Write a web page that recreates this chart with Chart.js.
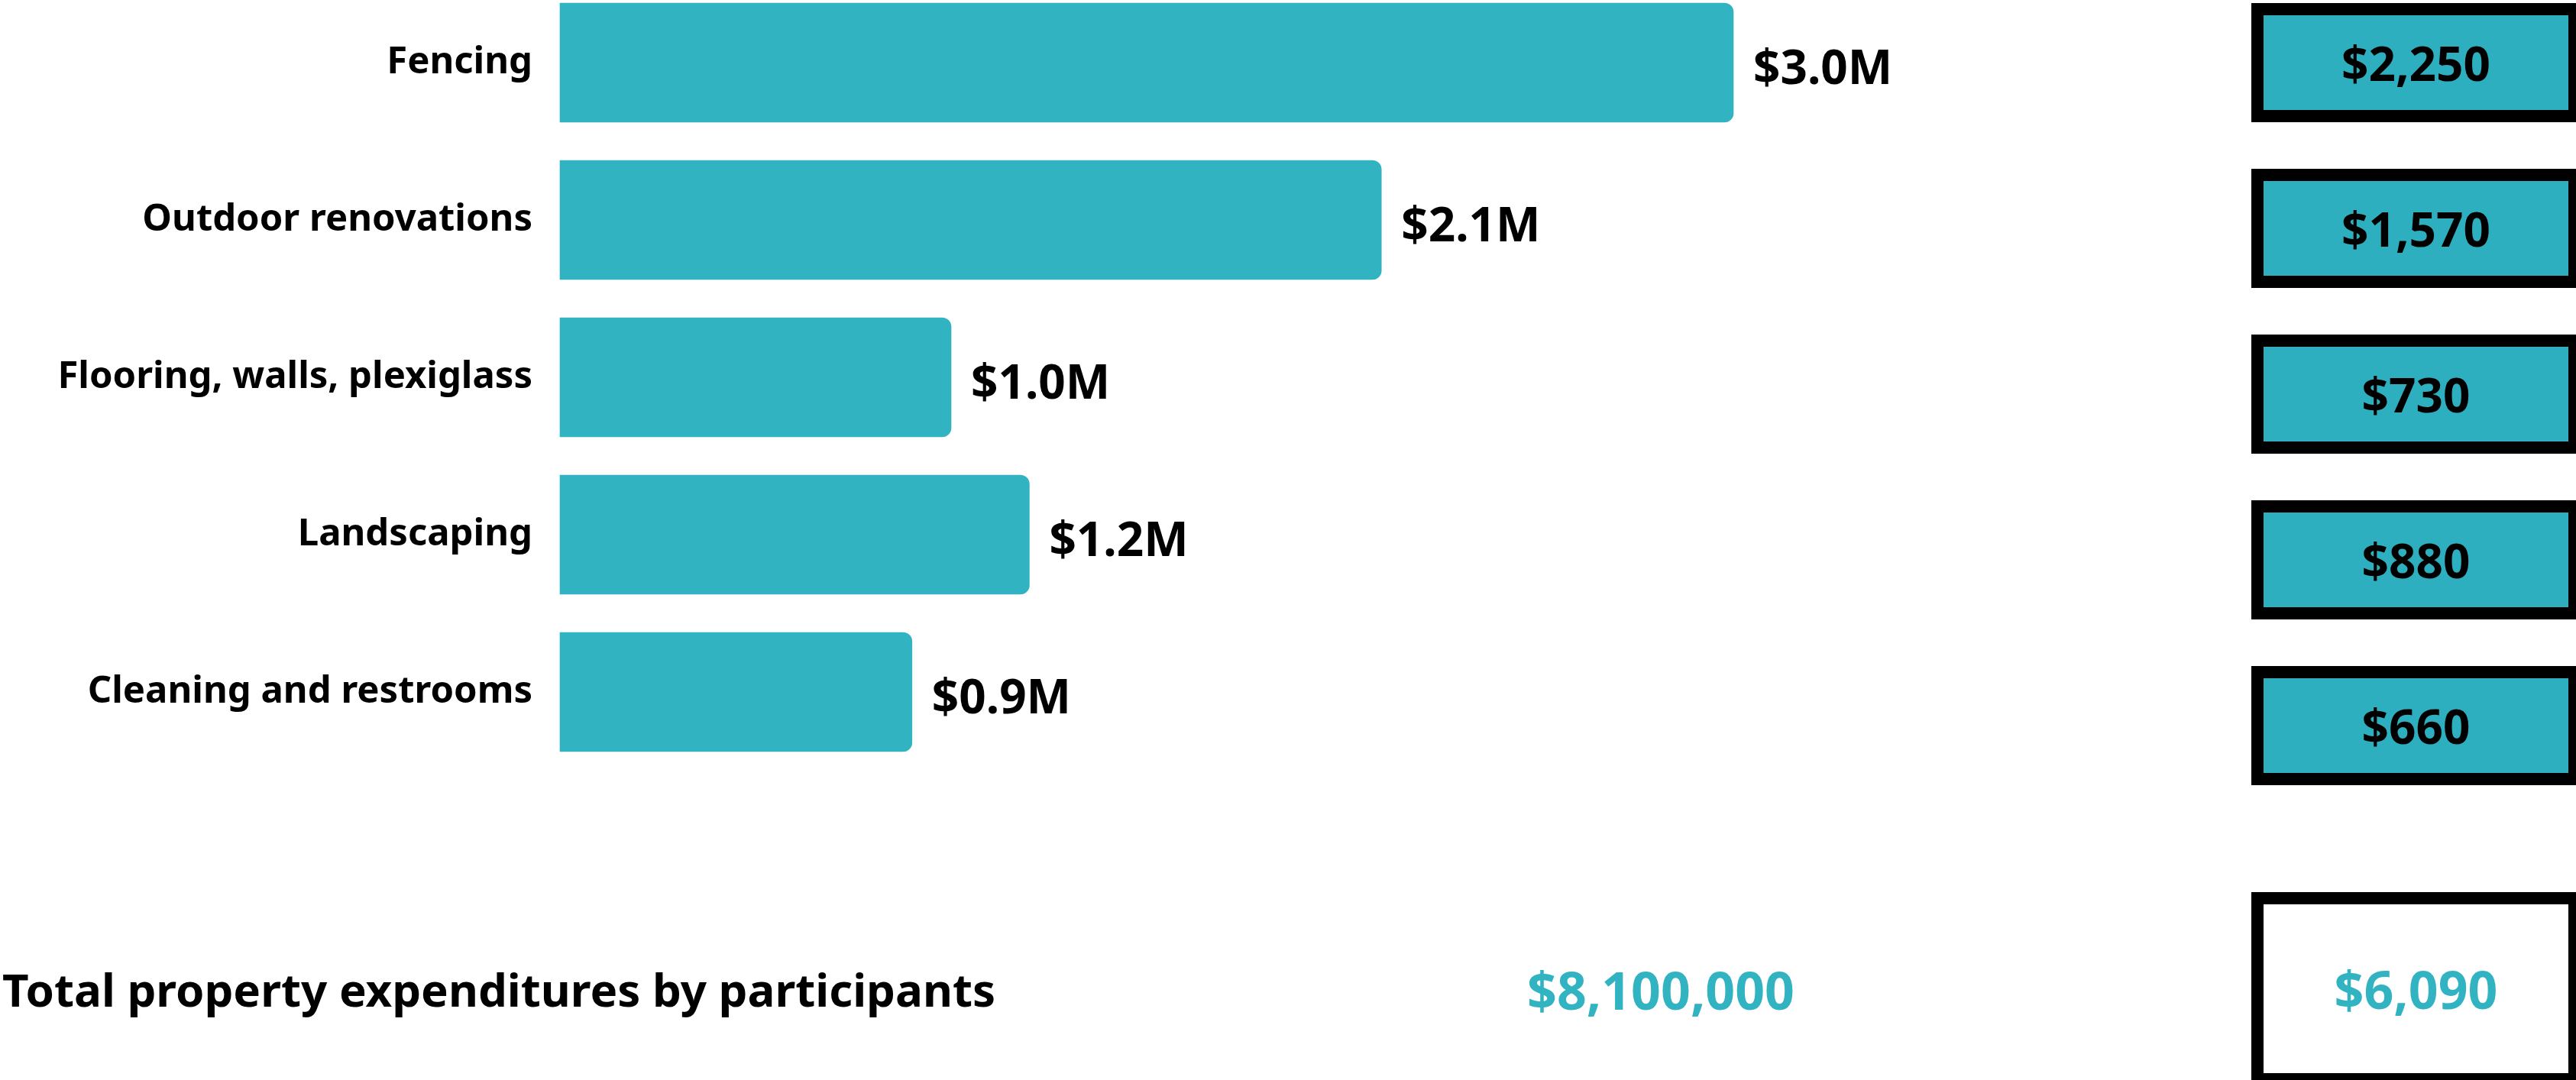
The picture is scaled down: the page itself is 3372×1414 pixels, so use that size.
<!DOCTYPE html>
<html>
<head>
<meta charset="utf-8">
<script src="https://cdn.jsdelivr.net/npm/chart.js@4.4.1/dist/chart.umd.min.js"></script>
<style>
  html, body { margin: 0; padding: 0; background: #fff; overflow: hidden; }
  body { width: 3372px; height: 1414px; position: relative; font-family: "Noto Sans", sans-serif; font-weight: 700; }
  #chart { position: absolute; left: 0; top: 0; }
  .box {
    position: absolute; left: 2947px; width: 431px; height: 156px;
    box-sizing: border-box; border: 16px solid #000; background: #2DAFBF;
    display: flex; align-items: center; justify-content: center;
    font-size: 62px; color: #000;
  }
  .total-box { top: 1168px; height: 253px; background: #fff; color: #31B3C2; font-size: 68px; }
  .total-row { position: absolute; top: 1245px; height: 100px; display: flex; align-items: center; }
  #totalTitle { left: 3px; font-size: 60px; color: #000; }
  #totalSpend { left: 1874px; width: 600px; justify-content: center; font-size: 68px; color: #31B3C2; }
</style>
</head>
<body>
<canvas id="chart" width="3372" height="1414"></canvas>
<div id="boxes"></div>
<div class="total-row" id="totalTitle"></div>
<div class="total-row" id="totalSpend"></div>
<div class="box total-box" id="totalBox"></div>
<script>
// categories and values (spending in $M, per participant in $)
const categories = ['Fencing', 'Outdoor renovations', 'Flooring, walls, plexiglass', 'Landscaping', 'Cleaning and restrooms'];
const spendingM = [3.0, 2.1, 1.0, 1.2, 0.9];
const perParticipant = [2250, 1570, 730, 880, 660];
const totalLabel = 'Total property expenditures by participants';
const totalSpending = 8100000;
const totalPerParticipant = 6090;

const teal = '#31B3C2';

// value labels at the end of each bar
const barLabels = {
  id: 'barLabels',
  afterDatasetsDraw(chart) {
    const ctx = chart.ctx;
    const meta = chart.getDatasetMeta(0);
    ctx.save();
    ctx.font = 'bold 62px "Noto Sans"';
    ctx.fillStyle = '#000';
    ctx.textAlign = 'left';
    ctx.textBaseline = 'middle';
    meta.data.forEach((bar, i) => {
      ctx.fillText('$' + spendingM[i].toFixed(1) + 'M', bar.x + 26, bar.y + 10);
    });
    ctx.restore();
  }
};

new Chart(document.getElementById('chart'), {
  type: 'bar',
  data: {
    labels: categories,
    datasets: [{
      data: spendingM,
      backgroundColor: teal,
      barThickness: 156,
      borderRadius: 12,
      borderSkipped: 'start',
      clip: false
    }]
  },
  options: {
    indexAxis: 'y',
    responsive: false,
    animation: false,
    devicePixelRatio: 1,
    layout: { padding: { top: 82, bottom: 508, left: 0, right: 79 } },
    scales: {
      x: { display: false, min: 0, max: 5 },
      y: {
        offset: false,
        grid: { display: false, drawTicks: false },
        border: { display: false },
        ticks: { color: '#000', padding: 36, font: { family: 'Noto Sans', size: 49, weight: 'bold' } },
        afterFit(scale) { scale.width = 733; }
      }
    },
    plugins: { legend: { display: false }, tooltip: { enabled: false } }
  },
  plugins: [barLabels]
});

// per participant boxes
const boxes = document.getElementById('boxes');
for (let i = 0; i < perParticipant.length; i++) {
  const d = document.createElement('div');
  d.className = 'box';
  d.style.top = (4 + i * 217) + 'px';
  d.textContent = '$' + perParticipant[i].toLocaleString('en-US');
  boxes.appendChild(d);
}
document.getElementById('totalTitle').textContent = totalLabel;
document.getElementById('totalSpend').textContent = '$' + totalSpending.toLocaleString('en-US');
document.getElementById('totalBox').textContent = '$' + totalPerParticipant.toLocaleString('en-US');
</script>
</body>
</html>
